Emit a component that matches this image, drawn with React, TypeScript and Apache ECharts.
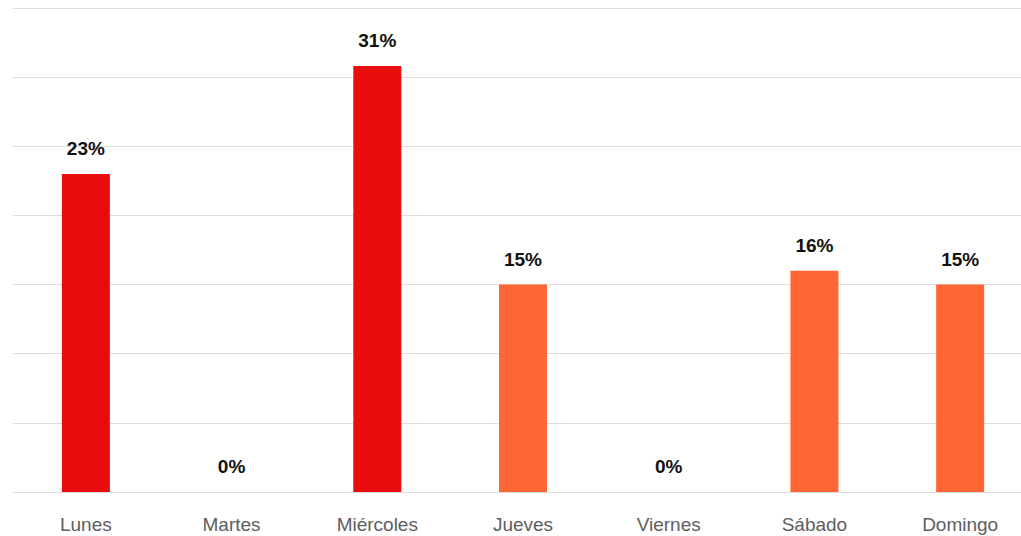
import React, { useEffect, useRef } from "react";
import * as echarts from "echarts";

const categories = ["Lunes", "Martes", "Miércoles", "Jueves", "Viernes", "Sábado", "Domingo"];
const values = [23, 0, 30.8, 15, 0, 16, 15];
const barColors = ["#e80c0c", "#e80c0c", "#e80c0c", "#ff6633", "#ff6633", "#ff6633", "#ff6633"];

export default function App() {
  const ref = useRef<HTMLDivElement>(null);
  useEffect(() => {
    if (!ref.current) return;
    const chart = echarts.init(ref.current, null, { renderer: "svg" });
    chart.setOption({
      animation: false,
      backgroundColor: "#ffffff",
      grid: { left: 11, top: 8, right: 0, bottom: 44, containLabel: false },
      xAxis: {
        type: "category",
        data: categories,
        axisLine: { show: true, lineStyle: { color: "#dcdcdc", width: 1 } },
        axisTick: { show: false },
        axisLabel: {
          color: "#5e5e5e",
          fontSize: 19,
          fontFamily: "Liberation Sans, Arial, sans-serif",
          margin: 23,
        },
      },
      yAxis: {
        type: "value",
        min: 0,
        max: 35,
        interval: 5,
        axisLabel: { show: false },
        axisLine: { show: false },
        axisTick: { show: false },
        splitLine: { lineStyle: { color: "#dcdcdc", width: 1 } },
      },
      series: [
        {
          type: "bar",
          barWidth: 48,
          data: values.map((v, i) => ({ value: v, itemStyle: { color: barColors[i] } })),
          label: {
            show: true,
            position: "top",
            distance: 16,
            formatter: (p: any) => Math.round(p.value) + "%",
            color: "#111111",
            fontSize: 19,
            fontWeight: "bold",
            fontFamily: "Liberation Sans, Arial, sans-serif",
          },
        },
      ],
    });
    return () => chart.dispose();
  }, []);
  return (
    <div style={{ position: "absolute", left: 0, top: 0, width: 1021, height: 536, overflow: "hidden" }}>
      <div ref={ref} style={{ position: "absolute", left: 2, top: 0, width: 1031, height: 536 }} />
    </div>
  );
}
